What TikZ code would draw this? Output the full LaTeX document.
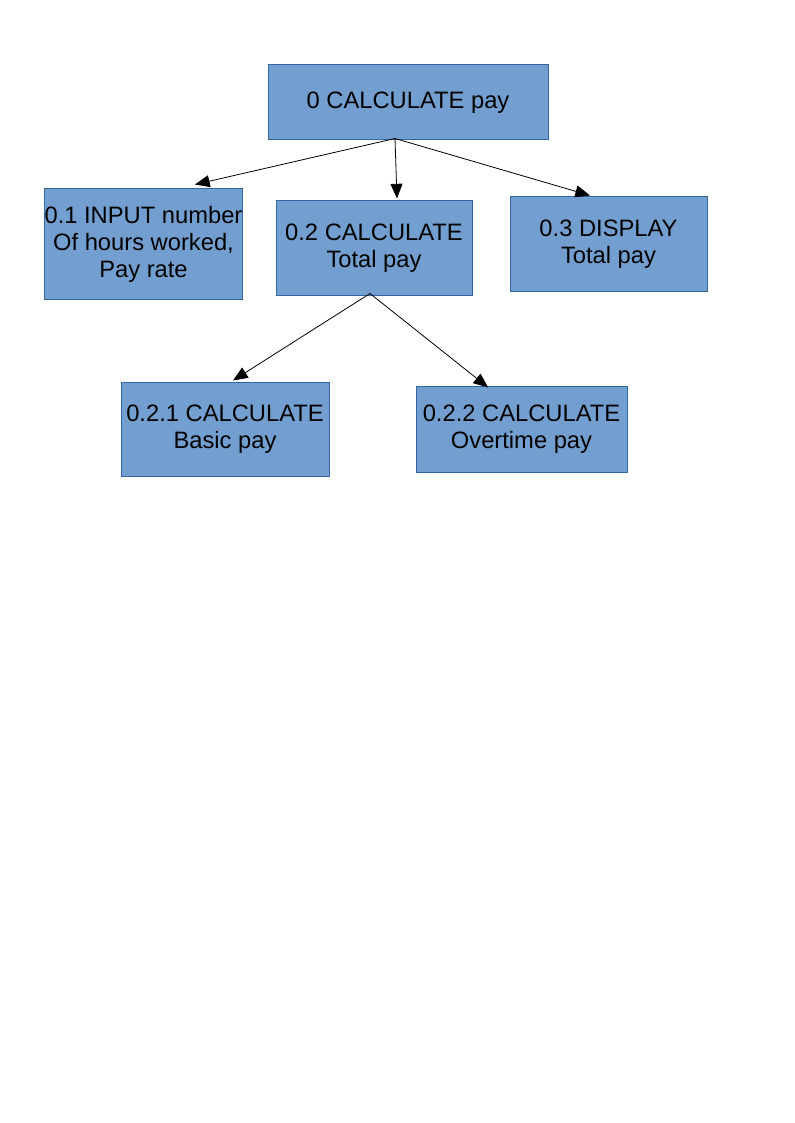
\documentclass[tikz,border=0pt]{standalone}
\usepackage{fontspec}
\setmainfont{Liberation Sans}
\usepackage{xcolor}
\usetikzlibrary{positioning,calc,arrows.meta}
\definecolor{PFill}{HTML}{729FCF}
\definecolor{PEdge}{HTML}{3465A4}
\definecolor{PInk}{HTML}{000000}

\begin{document}
\begin{tikzpicture}[x=0.75pt,y=-0.75pt,
  every node/.style={align=center},
  pbox/.style={draw=PEdge, fill=PFill, line width=0.75pt, inner sep=0pt,
    text=PInk, font=\fontsize{17.8}{20.2}\selectfont},
  parr/.style={draw=PInk, line width=0.6pt, -{Triangle[length=11pt,width=9pt]}}]
  \useasboundingbox (0,0) rectangle (794,1123);

  \node[pbox, minimum width=210pt, minimum height=56.25pt] (top) at (408,102.5) {0 CALCULATE pay};

  \node[pbox, minimum width=147.75pt, minimum height=82.5pt] (n01) at (143.5,244) {0.1 INPUT number\\Of hours worked,\\Pay rate};
  \node[pbox, minimum width=147pt, minimum height=70.5pt] (n02) at (374,248) {0.2 CALCULATE\\Total pay};
  \node[pbox, minimum width=147.75pt, minimum height=70.5pt] (n03) at (608.5,244) {0.3 DISPLAY\\Total pay};

  \node[pbox, minimum width=156pt, minimum height=70.5pt] (n021) at (225,429) {0.2.1 CALCULATE\\Basic pay};
  \node[pbox, minimum width=158.25pt, minimum height=64.5pt] (n022) at (521.5,429) {0.2.2 CALCULATE\\Overtime pay};

  \coordinate (topsrc) at ([xshift=-9.75pt,yshift=1.5pt]top.south);
  \coordinate (midsrc) at ([xshift=-3pt,yshift=1.5pt]n02.south);

  \draw[parr] (topsrc) -- ([xshift=38.6pt,yshift=3pt]n01.north);
  \draw[parr] (topsrc) -- ([xshift=17.25pt,yshift=1.5pt]n02.north);
  \draw[parr] (topsrc) -- ([xshift=-13.9pt,yshift=0.75pt]n03.north);

  \draw[parr] (midsrc) -- ([xshift=6pt,yshift=0.75pt]n021.north);
  \draw[parr] (midsrc) -- ([xshift=-25pt,yshift=-1.5pt]n022.north);
\end{tikzpicture}
\end{document}
